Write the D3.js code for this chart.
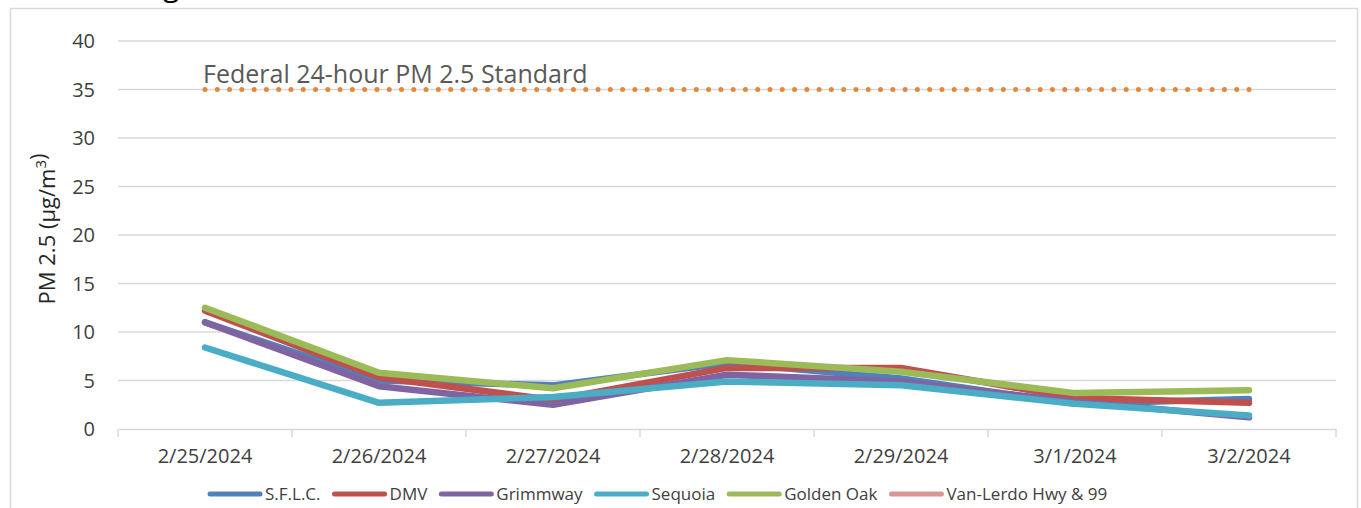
<!DOCTYPE html>
<html>
<head>
<meta charset="utf-8">
<script src="https://cdn.jsdelivr.net/npm/d3@7"></script>
<style>
  body { margin: 0; background: #fff; }
  text { font-family: "Open Sans", "Noto Sans", sans-serif; }
</style>
</head>
<body>
<div id="chart"></div>
<script>
// DATA
const dates = ["2/25/2024", "2/26/2024", "2/27/2024", "2/28/2024", "2/29/2024", "3/1/2024", "3/2/2024"];
const sflc = [11.0, 5.0, 4.5, 6.8, 5.2, 2.6, 3.1];
const dmv = [12.2, 5.3, 3.0, 6.3, 6.3, 3.2, 2.7];
const grimmway = [11.0, 4.4, 2.5, 5.6, 4.9, 2.8, 1.2];
const sequoia = [8.4, 2.7, 3.3, 4.9, 4.5, 2.6, 1.4];
const goldenOak = [12.5, 5.8, 4.2, 7.1, 5.9, 3.7, 4.0];
const vanLerdo = [];
const standardValue = 35;
const standardLabel = "Federal 24-hour PM 2.5 Standard";
const yTicks = [0, 5, 10, 15, 20, 25, 30, 35, 40];

const series = [
  { name: "S.F.L.C.", values: sflc, color: "#4F81BD" },
  { name: "DMV", values: dmv, color: "#C0504D" },
  { name: "Grimmway", values: grimmway, color: "#8064A2" },
  { name: "Sequoia", values: sequoia, color: "#4BACC6" },
  { name: "Golden Oak", values: goldenOak, color: "#9BBB59" },
  { name: "Van-Lerdo Hwy & 99", values: vanLerdo, color: "#D99694" }
];

// SIZE
const W = 1361, H = 508;
const margin = { top: 41, right: 25, bottom: 79, left: 118 };
const width = W - margin.left - margin.right;
const height = H - margin.top - margin.bottom;

const root = d3.select("#chart").append("svg")
    .attr("width", W)
    .attr("height", H);

// chart frame (cut off at the bottom like the original)
root.append("rect")
    .attr("x", 10.5).attr("y", 8.5)
    .attr("width", 1347).attr("height", 540)
    .attr("fill", "none")
    .attr("stroke", "#D9D9D9")
    .attr("stroke-width", 1.5);

// title fragment that sticks out above the frame
root.append("text")
    .attr("x", 163).attr("y", -4)
    .style("font-size", "30px")
    .attr("fill", "#000")
    .text("g");

const svg = root.append("g")
    .attr("transform", `translate(${margin.left}, ${margin.top})`);

// SCALES
const x = d3.scaleBand().domain(dates).range([0, width]).padding(0);
const y = d3.scaleLinear().domain([0, 40]).range([height, 0]);
const cx = d => x(d) + x.bandwidth() / 2;

// gridlines
svg.append("g")
    .selectAll("line")
    .data(yTicks.filter(t => t > 0))
    .enter()
    .append("line")
    .attr("x1", 0).attr("x2", width)
    .attr("y1", d => y(d)).attr("y2", d => y(d))
    .attr("stroke", "#D9D9D9")
    .attr("stroke-width", 1.5);

// y axis labels
svg.append("g")
    .selectAll("text")
    .data(yTicks)
    .enter()
    .append("text")
    .attr("x", -23)
    .attr("y", d => y(d))
    .attr("dy", "0.35em")
    .attr("text-anchor", "end")
    .attr("fill", "#404040")
    .style("font-size", "20px")
    .text(d => d);

// x axis
const xAxis = svg.append("g")
    .attr("transform", `translate(0, ${height})`)
    .call(d3.axisBottom(x).tickSize(0).tickPadding(20));
xAxis.select(".domain").attr("stroke", "#D9D9D9").attr("stroke-width", 1.5);
xAxis.selectAll("text")
    .attr("fill", "#404040")
    .style("font-size", "20px")
    .style("font-family", "'Open Sans', sans-serif");

// category boundary ticks
xAxis.append("g")
    .selectAll("line")
    .data(dates.map(d => x(d)).concat([width]))
    .enter()
    .append("line")
    .attr("x1", d => d).attr("x2", d => d)
    .attr("y1", 0).attr("y2", 8)
    .attr("stroke", "#D9D9D9")
    .attr("stroke-width", 1.5);

// y axis title
svg.append("text")
    .attr("transform", `translate(${-63}, ${height / 2 - 6}) rotate(-90)`)
    .attr("text-anchor", "middle")
    .attr("fill", "#262626")
    .style("font-size", "22px")
    .html("PM 2.5 (µg/m<tspan dy='-9' font-size='15px'>3</tspan>)");

// standard line (dotted)
const sx0 = cx(dates[0]), sx1 = cx(dates[dates.length - 1]);
const gap = (sx1 - sx0) / Math.round((sx1 - sx0) / 12.3);
svg.append("line")
    .attr("x1", sx0).attr("x2", sx1 + 0.5)
    .attr("y1", y(standardValue)).attr("y2", y(standardValue))
    .attr("stroke", "#E6863A")
    .attr("stroke-width", 5)
    .attr("stroke-linecap", "round")
    .attr("stroke-dasharray", `0.01 ${gap - 0.01}`);

svg.append("text")
    .attr("x", sx0 - 2)
    .attr("y", y(standardValue) - 7)
    .attr("fill", "#595959")
    .style("font-size", "25px")
    .text(standardLabel);

// series lines
const line = d3.line()
    .x((d, i) => cx(dates[i]))
    .y(d => y(d));

series.filter(s => s.values.length).forEach(s => {
  svg.append("path")
      .datum(s.values)
      .attr("fill", "none")
      .attr("stroke", s.color)
      .attr("stroke-width", 6.5)
      .attr("stroke-linecap", "round")
      .attr("stroke-linejoin", "round")
      .attr("d", line);
});

// legend
const legend = root.append("g")
    .attr("transform", "translate(208, 494)");
let lx = 0;
series.forEach(s => {
  const g = legend.append("g").attr("transform", `translate(${lx}, 0)`);
  g.append("line")
      .attr("x1", 2).attr("x2", 52)
      .attr("y1", 0).attr("y2", 0)
      .attr("stroke", s.color)
      .attr("stroke-width", 5)
      .attr("stroke-linecap", "round");
  const t = g.append("text")
      .attr("x", 57)
      .attr("dy", "0.35em")
      .attr("fill", "#404040")
      .style("font-size", "17px")
      .text(s.name);
  lx += 57 + t.node().getComputedTextLength() + 12;
});
</script>
</body>
</html>
